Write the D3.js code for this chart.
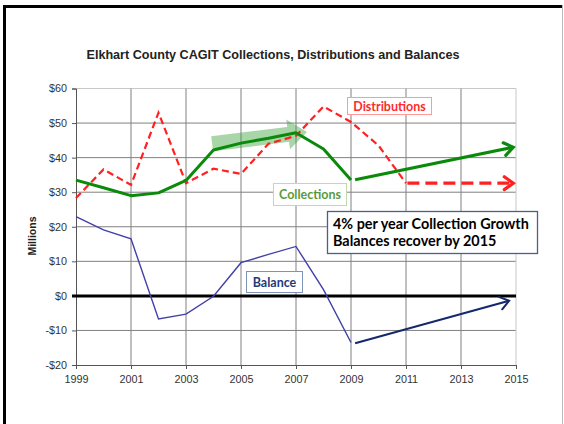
<!DOCTYPE html>
<html><head><meta charset="utf-8">
<script src="https://cdn.jsdelivr.net/npm/d3@7/dist/d3.min.js"></script>
<style>body{margin:0;background:#fff}svg{display:block}</style>
</head><body>
<script>
// ---- data ----
const years = [1999,2000,2001,2002,2003,2004,2005,2006,2007,2008,2009,2010,2011];
const collections = [33.5,31.3,29.0,29.8,33.4,42.2,44.2,45.6,47.2,42.5,33.5];
const distributions = [28.3,36.6,32.1,53.0,32.6,36.8,35.3,44.0,46.3,54.8,50.3,43.5,32.6];
const balance = [22.9,19.1,16.5,-6.7,-5.3,-0.1,9.6,12.0,14.3,1.8,-13.5];
const collectionsProjection = [[2009.15,33.6],[2014.9,43.0]];
const distributionsProjection = [[2011.05,32.6],[2014.9,32.6]];
const balanceProjection = [[2009.15,-13.7],[2014.75,-1.4]];
const growthArrow = [[2003.95,44.0],[2007.4,47.4]];
const yTicks = [-20,-10,0,10,20,30,40,50,60];
const xTicks = [1999,2001,2003,2005,2007,2009,2011,2013,2015];
const title = "Elkhart County CAGIT Collections, Distributions and Balances";
const noteLines = ["4% per year Collection Growth","Balances recover by 2015"];

const W=564,H=424;
const svg=d3.select("body").append("svg").attr("width",W).attr("height",H);
const x=d3.scaleLinear().domain([1999,2015]).range([76,516]);
const y=d3.scaleLinear().domain([-20,60]).range([365,88.5]);

// frame
svg.append("line").attr("x1",562.5).attr("x2",562.5).attr("y1",5).attr("y2",H).attr("stroke","#bbb").attr("stroke-width",1);
svg.append("rect").attr("x",3).attr("y",5).attr("width",559).attr("height",3).attr("fill","#000");
svg.append("rect").attr("x",3).attr("y",5).attr("width",3).attr("height",H).attr("fill","#000");

// title
svg.append("text").attr("x",273).attr("y",59).attr("text-anchor","middle")
  .attr("font-family","Liberation Sans, Arial, sans-serif").attr("font-weight","bold").attr("font-size",12.6)
  .attr("fill","#222").text(title);

// gridlines
const grid=svg.append("g");
grid.selectAll(".hg").data(yTicks.filter(d=>d!==-20)).enter().append("line")
  .attr("x1",x(1999)).attr("x2",x(2015)).attr("y1",d=>y(d)).attr("y2",d=>y(d))
  .attr("stroke",d=>d===60?"#c8c8c8":"#808080").attr("stroke-width",1);
grid.selectAll(".vg").data(xTicks.filter(d=>d!==1999)).enter().append("line")
  .attr("x1",d=>x(d)).attr("x2",d=>x(d)).attr("y1",y(60)).attr("y2",y(-20))
  .attr("stroke",d=>d===2015?"#c8c8c8":"#808080").attr("stroke-width",1);

// axes
const font="Liberation Sans, Arial, sans-serif";
const ya=svg.append("g").attr("transform",`translate(${x(1999)},0)`)
  .call(d3.axisLeft(y).tickValues(yTicks).tickSize(4).tickPadding(5).tickFormat(d=>d<0?`-$${-d}`:`$${d}`));
const xa=svg.append("g").attr("transform",`translate(0,${y(-20)})`)
  .call(d3.axisBottom(x).tickValues(xTicks).tickSize(4).tickPadding(6).tickFormat(d3.format("d")));
[ya,xa].forEach(a=>{
  a.selectAll("path,line").attr("stroke","#555");
  a.select(".domain").attr("stroke","#555");
  a.selectAll("text").attr("font-family",font).attr("font-size",10.8).attr("fill","#333");
});
svg.append("text").attr("transform",`translate(36,236) rotate(-90)`).attr("text-anchor","middle")
  .attr("font-family",font).attr("font-weight","bold").attr("font-size",10.5).attr("fill","#222").text("Millions");

// zero line
svg.append("line").attr("x1",x(1999)-4).attr("x2",x(2015)).attr("y1",y(0)).attr("y2",y(0))
  .attr("stroke","#000").attr("stroke-width",3);

// growth shaded arrow
(function(){
  const p0=[x(growthArrow[0][0]),y(growthArrow[0][1])], p1=[x(growthArrow[1][0]),y(growthArrow[1][1])];
  const dx=p1[0]-p0[0], dy=p1[1]-p0[1], L=Math.hypot(dx,dy), ux=dx/L, uy=dy/L, nx=-uy, ny=ux;
  const bw=7.5, hw=15, hl=19;
  const hb=[p1[0]-ux*hl,p1[1]-uy*hl];
  const pts=[[p0[0]+nx*bw,p0[1]+ny*bw],[hb[0]+nx*bw,hb[1]+ny*bw],[hb[0]+nx*hw,hb[1]+ny*hw],p1,
    [hb[0]-nx*hw,hb[1]-ny*hw],[hb[0]-nx*bw,hb[1]-ny*bw],[p0[0]-nx*bw,p0[1]-ny*bw]];
  svg.append("polygon").attr("points",pts.map(p=>p.join(",")).join(" "))
    .attr("fill","#3fa53f").attr("fill-opacity",0.45);
})();

const line=d3.line().x((d,i)=>x(years[i])).y(d=>y(d));
const pline=d3.line().x(d=>x(d[0])).y(d=>y(d[1]));

// distributions
svg.append("path").datum(distributions).attr("d",line).attr("fill","none")
  .attr("stroke","#ff2020").attr("stroke-width",2.2).attr("stroke-dasharray","7,4");
// balance
svg.append("path").datum(balance).attr("d",line).attr("fill","none")
  .attr("stroke","#4040a8").attr("stroke-width",1.4);
// collections
svg.append("path").datum(collections).attr("d",line).attr("fill","none")
  .attr("stroke","#0a8a0a").attr("stroke-width",3).attr("stroke-linejoin","round");

function arrow(data,color,w,dash){
  svg.append("path").datum(data).attr("d",pline).attr("fill","none").attr("stroke",color)
    .attr("stroke-width",w).attr("stroke-dasharray",dash||null);
  const p0=[x(data[0][0]),y(data[0][1])], p1=[x(data[1][0]),y(data[1][1])];
  const a=Math.atan2(p1[1]-p0[1],p1[0]-p0[0]);
  const len=11, spread=0.62;
  const h1=[p1[0]-len*Math.cos(a-spread),p1[1]-len*Math.sin(a-spread)];
  const h2=[p1[0]-len*Math.cos(a+spread),p1[1]-len*Math.sin(a+spread)];
  svg.append("path").attr("d",`M${h1}L${p1}L${h2}`).attr("fill","none").attr("stroke",color)
    .attr("stroke-width",w).attr("stroke-linejoin","miter").attr("stroke-linecap","round");
}
arrow(collectionsProjection,"#0a8a0a",3.2);
arrow(distributionsProjection,"#ff2020",3.2,"12,6");
arrow(balanceProjection,"#14286e",2);

// labels
const lfont="Lato, 'Open Sans', sans-serif";
function label(x0,y0,w,h,txt,color,border,fs){
  svg.append("rect").attr("x",x0).attr("y",y0).attr("width",w).attr("height",h)
    .attr("fill","#fff").attr("stroke",border).attr("stroke-width",1);
  svg.append("text").attr("x",x0+w/2).attr("y",y0+h/2).attr("dy","0.36em").attr("text-anchor","middle")
    .attr("font-family",lfont).attr("font-weight","bold").attr("font-size",fs).attr("fill",color).text(txt);
}
label(347.5,97.5,84,17,"Distributions","#ff2a2a","#ff9a9a",12.5);
label(273.5,183.5,73,22,"Collections","#5a9a3a","#c2d9a8",12.5);
label(246.5,271.5,56,21,"Balance","#1f3a78","#7f93b8",12.5);

svg.append("rect").attr("x",327.5).attr("y",211.5).attr("width",210).attr("height",42)
  .attr("fill","#fff").attr("stroke","#4a5f8a").attr("stroke-width",1.3);
svg.selectAll(".note").data(noteLines).enter().append("text")
  .attr("x",333).attr("y",(d,i)=>229+i*17).attr("font-family",lfont).attr("font-weight","bold")
  .attr("font-size",14.4).attr("fill","#000").text(d=>d);
</script>
</body></html>
